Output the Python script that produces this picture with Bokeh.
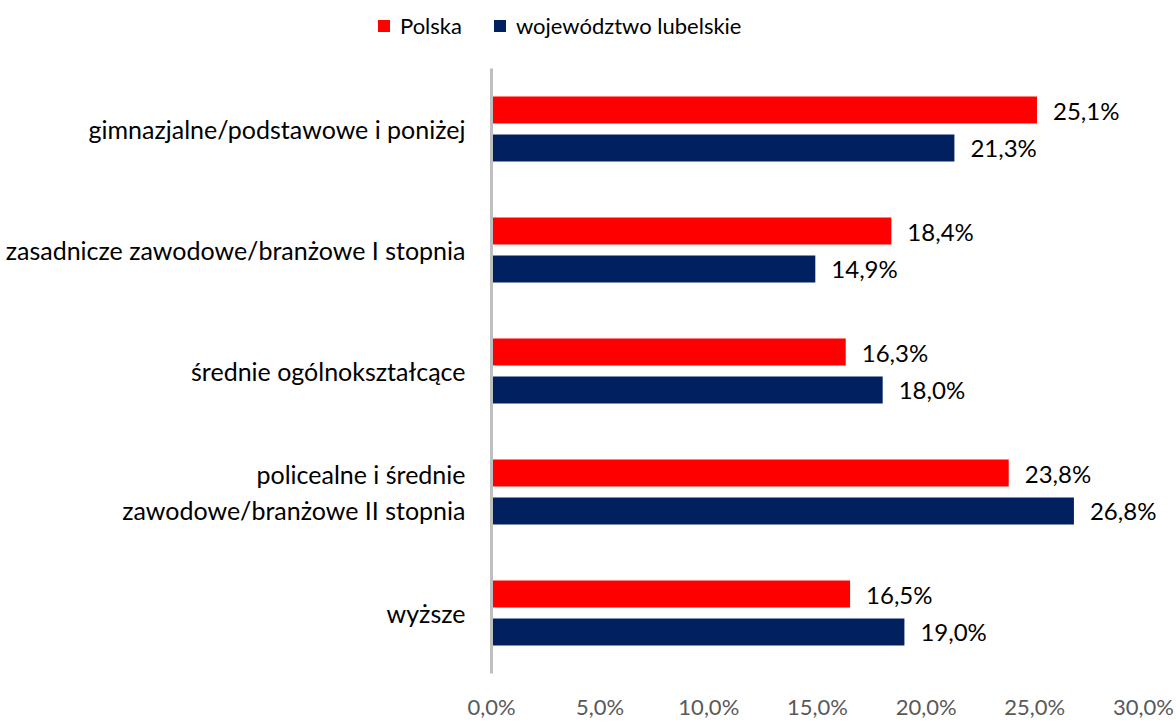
from bokeh.plotting import figure
from bokeh.models import FactorRange, Range1d, Legend, LegendItem, FixedTicker, ColumnDataSource
from bokeh.transform import dodge
from bokeh.core.properties import value
from bokeh.embed import file_html
from bokeh.resources import INLINE

categories = [
    "gimnazjalne/podstawowe i poniżej",
    "zasadnicze zawodowe/branżowe I stopnia",
    "średnie ogólnokształcące",
    "policealne i średnie\nzawodowe/branżowe II stopnia",
    "wyższe",
]
polska = [25.1, 18.4, 16.3, 23.8, 16.5]
lubelskie = [21.3, 14.9, 18.0, 26.8, 19.0]
series_names = ["Polska", "województwo lubelskie"]
tick_values = [0, 5, 10, 15, 20, 25, 30]
tick_labels = ["0,0%", "5,0%", "10,0%", "15,0%", "20,0%", "25,0%", "30,0%"]

RED = "#FF0000"
NAVY = "#002060"
FONT = "Lato"


def fmt(v):
    return f"{v:.1f}".replace(".", ",") + "%"


src_pl = ColumnDataSource(dict(cat=categories, val=polska, lab=[fmt(v) for v in polska]))
src_lu = ColumnDataSource(dict(cat=categories, val=lubelskie, lab=[fmt(v) for v in lubelskie]))

# ---- legend strip (own root so the legend can sit left of the main frame) ----
lg = figure(
    width=1176, height=68, x_range=Range1d(0, 30), y_range=Range1d(0, 1),
    output_backend="svg", toolbar_location=None, tools="",
    x_axis_location=None, y_axis_location=None,
    min_border_left=0, min_border_right=0, min_border_top=0, min_border_bottom=0,
)
lg.outline_line_color = None
lg.xgrid.visible = False
lg.ygrid.visible = False
# same series placed below the strip's visible y range: only their legend swatches show
d1 = lg.hbar(y=-2, left=0, right="val", height=0.5, source=src_pl, fill_color=RED, line_color=None)
d2 = lg.hbar(y=-2, left=0, right="val", height=0.5, source=src_lu, fill_color=NAVY, line_color=None)
legend = Legend(
    items=[LegendItem(label=series_names[0], renderers=[d1]),
           LegendItem(label=series_names[1], renderers=[d2])],
    orientation="horizontal", location=(376, 29),
    glyph_width=15, glyph_height=15, label_standoff=9, spacing=30,
    padding=0, margin=0, border_line_color=None, background_fill_alpha=0,
    label_text_font=FONT, label_text_font_size="22px", label_text_color="black",
)
lg.add_layout(legend)

# ---- main chart ----
p = figure(
    width=1176, height=654,
    y_range=FactorRange(factors=list(reversed(categories))),
    x_range=Range1d(0, 31.52),
    output_backend="svg", toolbar_location=None, tools="",
    min_border_left=491, min_border_right=0, min_border_top=0, min_border_bottom=46,
)
p.outline_line_color = None
p.xgrid.visible = False
p.ygrid.visible = False

off = 0.157
bh = 0.2235
r1 = p.hbar(y=dodge("cat", off, range=p.y_range), left=0, right="val", height=bh,
            source=src_pl, fill_color=RED, line_color=None)
r2 = p.hbar(y=dodge("cat", -off, range=p.y_range), left=0, right="val", height=bh,
            source=src_lu, fill_color=NAVY, line_color=None)

for src, o in ((src_pl, off), (src_lu, -off)):
    p.text(x="val", y=dodge("cat", o, range=p.y_range), text="lab", source=src,
           x_offset=16, text_baseline="middle", text_align="left",
           text_font=value(FONT), text_font_size="24px", text_color="black")

# y axis
ya = p.yaxis[0]
ya.axis_line_color = "#BFBFBF"
ya.axis_line_width = 3
ya.major_tick_line_color = None
ya.minor_tick_line_color = None
ya.major_tick_out = 0
ya.major_label_standoff = 26
ya.major_label_text_font = FONT
ya.major_label_text_font_size = "25px"
ya.major_label_text_color = "black"

# x axis
xa = p.xaxis[0]
xa.ticker = FixedTicker(ticks=tick_values)
xa.major_label_overrides = {t: l for t, l in zip(tick_values, tick_labels)}
xa.axis_line_color = None
xa.major_tick_line_color = None
xa.minor_tick_line_color = None
xa.major_tick_out = 0
xa.major_label_standoff = 19
xa.major_label_text_font = FONT
xa.major_label_text_font_size = "22px"
xa.major_label_text_color = "#595959"

open("out.html", "w").write(file_html([lg, p], INLINE))
